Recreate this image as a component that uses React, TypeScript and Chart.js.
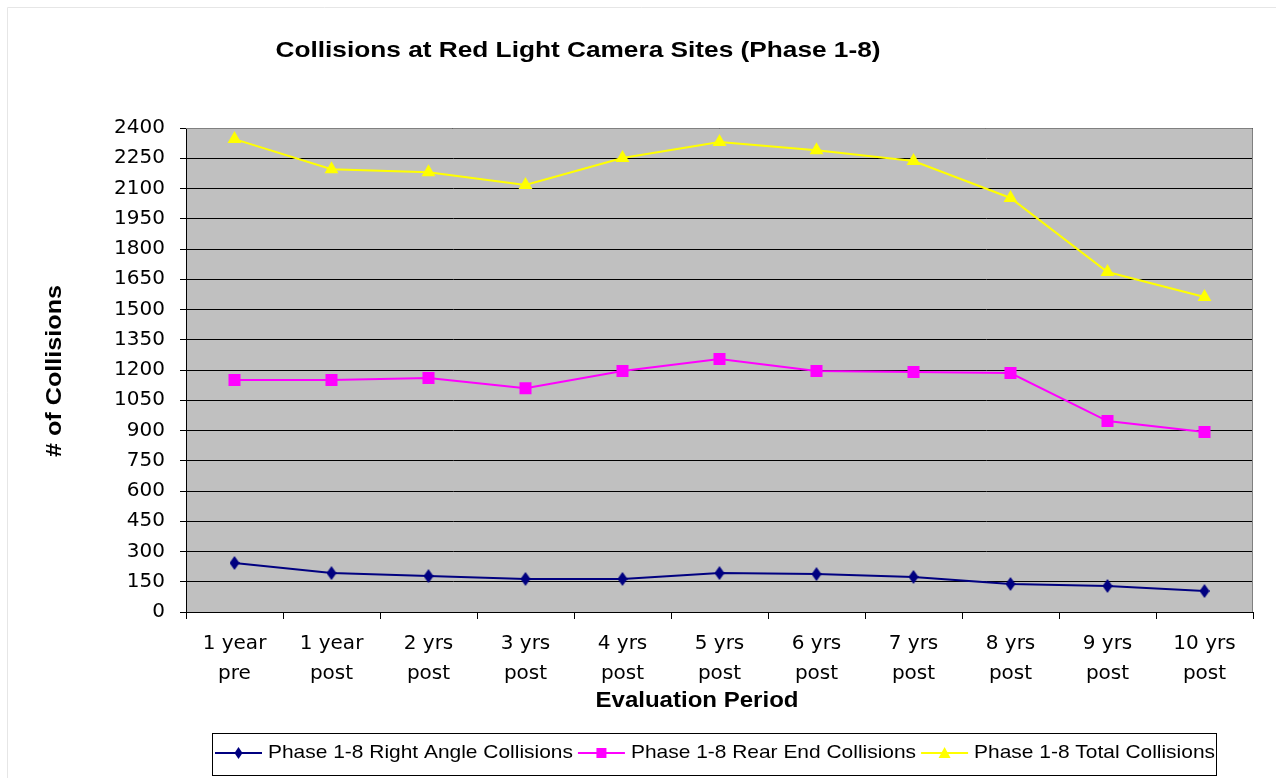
import React, { useEffect, useRef } from "react";
import { Chart, registerables } from "chart.js";

Chart.register(...registerables);

const categories: string[][] = [
  ["1 year", "pre"],
  ["1 year", "post"],
  ["2 yrs", "post"],
  ["3 yrs", "post"],
  ["4 yrs", "post"],
  ["5 yrs", "post"],
  ["6 yrs", "post"],
  ["7 yrs", "post"],
  ["8 yrs", "post"],
  ["9 yrs", "post"],
  ["10 yrs", "post"],
];

const rightAngle = [243, 193, 178, 164, 164, 193, 188, 174, 139, 129, 104];
const rearEnd = [1150, 1150, 1160, 1110, 1195, 1254, 1195, 1190, 1185, 947, 892];
const total = [2345, 2196, 2181, 2117, 2251, 2330, 2290, 2236, 2053, 1686, 1562];

const seriesNames = [
  "Phase 1-8 Right Angle Collisions",
  "Phase 1-8 Rear End Collisions",
  "Phase 1-8 Total Collisions",
];
const seriesColors = ["#000080", "#ff00ff", "#ffff00"];

const titleText = "Collisions at Red Light Camera Sites (Phase 1-8)";
const xTitle = "Evaluation Period";
const yTitle = "# of Collisions";

function makeDiamond(color: string): HTMLCanvasElement {
  const c = document.createElement("canvas");
  c.width = 10;
  c.height = 14;
  const ctx = c.getContext("2d")!;
  ctx.fillStyle = color;
  ctx.beginPath();
  ctx.moveTo(5, 0);
  ctx.lineTo(10, 7);
  ctx.lineTo(5, 14);
  ctx.lineTo(0, 7);
  ctx.closePath();
  ctx.fill();
  return c;
}

function drawMarker(ctx: CanvasRenderingContext2D, kind: number, x: number, y: number, color: string) {
  ctx.save();
  ctx.fillStyle = color;
  ctx.beginPath();
  if (kind === 0) {
    ctx.moveTo(x, y - 6);
    ctx.lineTo(x + 4, y);
    ctx.lineTo(x, y + 6);
    ctx.lineTo(x - 4, y);
  } else if (kind === 1) {
    ctx.rect(x - 5, y - 5, 10, 10);
  } else {
    ctx.moveTo(x, y - 6);
    ctx.lineTo(x + 6, y + 5);
    ctx.lineTo(x - 6, y + 5);
  }
  ctx.closePath();
  ctx.fill();
  ctx.restore();
}

// draw text stretched horizontally to a given width
function stretchText(ctx: CanvasRenderingContext2D, text: string, cx: number, cy: number, targetW: number) {
  const w = ctx.measureText(text).width;
  const sx = targetW / w;
  ctx.save();
  ctx.translate(cx, cy);
  ctx.scale(sx, 1);
  ctx.textAlign = "center";
  ctx.fillText(text, 0, 0);
  ctx.restore();
}

const decorPlugin = {
  id: "decor",
  beforeDraw(chart: any) {
    const { ctx, chartArea, width, height } = chart;
    ctx.save();
    ctx.fillStyle = "#ffffff";
    ctx.fillRect(0, 0, width, height);
    ctx.strokeStyle = "#e6e6e6";
    ctx.lineWidth = 1;
    ctx.beginPath();
    ctx.moveTo(7.5, height);
    ctx.lineTo(7.5, 7.5);
    ctx.lineTo(width, 7.5);
    ctx.stroke();
    ctx.fillStyle = "#c0c0c0";
    ctx.fillRect(chartArea.left, chartArea.top, chartArea.right - chartArea.left, chartArea.bottom - chartArea.top);
    ctx.restore();
  },
  afterDraw(chart: any) {
    const { ctx, chartArea } = chart;
    ctx.save();
    // plot border
    ctx.strokeStyle = "#808080";
    ctx.lineWidth = 1;
    ctx.beginPath();
    ctx.moveTo(chartArea.left, chartArea.top + 0.5);
    ctx.lineTo(chartArea.right - 0.5, chartArea.top + 0.5);
    ctx.lineTo(chartArea.right - 0.5, chartArea.bottom);
    ctx.stroke();

    // titles
    ctx.fillStyle = "#000";
    ctx.textBaseline = "middle";
    ctx.font = "bold 22px 'Liberation Sans', Arial, sans-serif";
    stretchText(ctx, titleText, 578, 51, 605);
    ctx.font = "bold 22px 'Liberation Sans', Arial, sans-serif";
    stretchText(ctx, xTitle, 697, 701, 203);
    ctx.save();
    ctx.translate(55, 371);
    ctx.rotate(-Math.PI / 2);
    stretchText(ctx, yTitle, 0, 0, 172);
    ctx.restore();

    // legend
    const boxL = 212, boxT = 733, boxR = 1217, boxB = 776;
    ctx.fillStyle = "#fff";
    ctx.fillRect(boxL, boxT, boxR - boxL, boxB - boxT);
    ctx.strokeStyle = "#000";
    ctx.strokeRect(boxL + 0.5, boxT + 0.5, boxR - boxL - 1, boxB - boxT - 1);
    ctx.font = "19px 'Liberation Sans', Arial, sans-serif";
    const cy = 753;
    let x = 215;
    const widths = seriesNames.map((n) => ctx.measureText(n).width);
    const totalTextW = widths.reduce((a, b) => a + b, 0);
    const sx = (boxR - 2 - 215 - 3 * 53 - 2 * 5) / totalTextW;
    for (let i = 0; i < seriesNames.length; i++) {
      ctx.strokeStyle = seriesColors[i];
      ctx.lineWidth = 2;
      ctx.beginPath();
      ctx.moveTo(x, cy);
      ctx.lineTo(x + 47, cy);
      ctx.stroke();
      drawMarker(ctx, i, x + 23.5, cy, seriesColors[i]);
      x += 53;
      ctx.fillStyle = "#000";
      const tw = widths[i] * sx;
      stretchText(ctx, seriesNames[i], x + tw / 2, cy, tw);
      x += tw + 5;
    }
    ctx.restore();
  },
};

export default function App() {
  const ref = useRef<HTMLCanvasElement | null>(null);
  useEffect(() => {
    if (!ref.current) return;
    const diamond = makeDiamond(seriesColors[0]);
    const tickFont = { family: "'DejaVu Sans', sans-serif", size: 20 };
    const chart = new Chart(ref.current, {
      type: "line",
      data: {
        labels: categories,
        datasets: [
          {
            label: seriesNames[0],
            data: rightAngle,
            borderColor: seriesColors[0],
            backgroundColor: seriesColors[0],
            borderWidth: 2,
            pointStyle: diamond as any,
            pointRadius: 7,
          },
          {
            label: seriesNames[1],
            data: rearEnd,
            borderColor: seriesColors[1],
            backgroundColor: seriesColors[1],
            borderWidth: 2,
            pointStyle: "rect",
            pointRadius: 8.5,
            pointBorderWidth: 0,
          },
          {
            label: seriesNames[2],
            data: total,
            borderColor: seriesColors[2],
            backgroundColor: seriesColors[2],
            borderWidth: 2,
            pointStyle: "triangle",
            pointRadius: 8,
            pointBorderWidth: 0,
          },
        ],
      },
      options: {
        animation: false,
        responsive: false,
        layout: { padding: { top: 128, right: 23, bottom: 58, left: 0 } },
        plugins: {
          legend: { display: false },
          title: { display: false },
          tooltip: { enabled: false },
        },
        scales: {
          x: {
            offset: true,
            grid: {
              offset: true,
              drawOnChartArea: false,
              drawTicks: true,
              tickLength: 7,
              color: "#000",
            },
            border: { color: "#000", width: 1 },
            ticks: {
              color: "#000",
              font: { ...tickFont, lineHeight: 1.5 },
              padding: 10,
              maxRotation: 0,
              autoSkip: false,
            },
            afterFit: (s: any) => {
              s.height = 108;
            },
          },
          y: {
            min: 0,
            max: 2400,
            grid: { color: "#000", lineWidth: 1, tickLength: 6 },
            border: { color: "#000", width: 1 },
            ticks: {
              stepSize: 150,
              color: "#000",
              font: tickFont,
              padding: 15,
              callback: (v: any) => String(v),
            },
            afterFit: (s: any) => {
              s.width = 186;
            },
          },
        },
      },
      plugins: [decorPlugin],
    });
    return () => chart.destroy();
  }, []);
  return (
    <div style={{ position: "fixed", left: 0, top: 0, width: 1276, height: 778 }}>
      <canvas ref={ref} width={1276} height={778} style={{ width: 1276, height: 778, display: "block" }} />
    </div>
  );
}
